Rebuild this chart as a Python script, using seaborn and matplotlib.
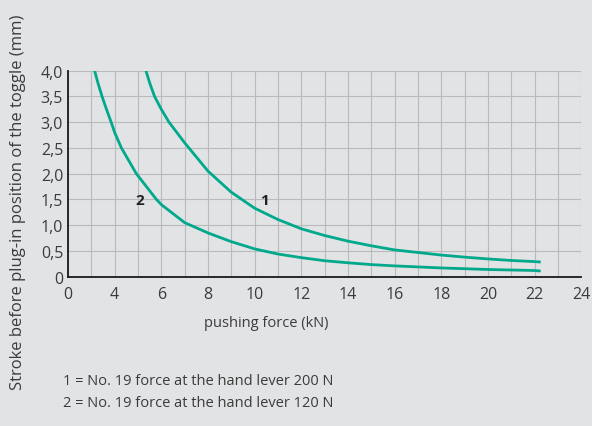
import matplotlib
matplotlib.use("Agg")
import matplotlib.pyplot as plt
import seaborn as sns
import pandas as pd
from matplotlib.ticker import MultipleLocator

# ---- data ----
curve1_x = [5.34, 5.51, 5.71, 6.0, 6.33, 7.0, 8.0, 9.0, 10, 11, 12, 13, 14, 15,
            16, 17, 18, 19, 20, 21, 22, 22.26]
curve1_y = [4.0, 3.75, 3.5, 3.25, 3.0, 2.60, 2.05, 1.64, 1.33, 1.11, 0.93, 0.80,
            0.69, 0.60, 0.52, 0.47, 0.42, 0.38, 0.345, 0.315, 0.293, 0.285]
curve2_x = [3.14, 3.29, 3.46, 3.65, 3.85, 4.0, 4.29, 4.93, 5.79, 6.0, 7, 8, 9, 10, 11,
            12, 13, 14, 15, 16, 17, 18, 19, 20, 22, 22.26]
curve2_y = [4.0, 3.75, 3.5, 3.25, 3.0, 2.80, 2.5, 2.0, 1.5, 1.40, 1.05, 0.85, 0.68,
            0.54, 0.44, 0.37, 0.31, 0.27, 0.235, 0.21, 0.19, 0.17, 0.155, 0.14, 0.12, 0.11]

x_tick_pos = [2, 4, 6, 8, 10, 12, 14, 16, 18, 20, 22, 24]
x_tick_labels = ["0", "4", "6", "8", "10", "12", "14", "16", "18", "20", "22", "24"]
y_tick_pos = [0, 0.5, 1.0, 1.5, 2.0, 2.5, 3.0, 3.5, 4.0]
y_tick_labels = ["0", "0,5", "1,0", "1,5", "2,0", "2,5", "3,0", "3,5", "4,0"]

curve_labels = ["1", "2"]
curve_label_x = [10.44, 5.06]
curve_label_y = [1.48, 1.48]

notes = ["1 = No. 19 force at the hand lever 200 N",
         "2 = No. 19 force at the hand lever 120 N"]

x_label = "pushing force (kN)"
y_label = "Stroke before plug-in position of the toggle (mm)"

# ---- styling ----
BG = "#e2e3e5"
GRID = "#b9babc"
LINE = "#00a98c"
TEXT = "#3b3b3b"

sns.set_theme(style="white")
plt.rcParams["font.family"] = ["Open Sans", "DejaVu Sans"]

fig = plt.figure(figsize=(5.92, 4.27), dpi=100, facecolor=BG)
ax = fig.add_axes([68 / 592, 1 - 277.7 / 427, (581.3 - 68) / 592, (277.7 - 71.7) / 427])
ax.set_facecolor(BG)

df = pd.concat([
    pd.DataFrame({"x": curve1_x, "y": curve1_y, "curve": "1"}),
    pd.DataFrame({"x": curve2_x, "y": curve2_y, "curve": "2"}),
])
sns.lineplot(data=df, x="x", y="y", units="curve", estimator=None, sort=False,
             color=LINE, linewidth=2.0, ax=ax, legend=False)
for ln in ax.get_lines():
    ln.set_solid_joinstyle("round")
    ln.set_solid_capstyle("butt")

ax.set_xlim(2, 24)
ax.set_ylim(0, 4)
ax.set_xticks(x_tick_pos)
ax.set_xticklabels(x_tick_labels)
ax.set_yticks(y_tick_pos)
ax.set_yticklabels(y_tick_labels)
ax.xaxis.set_minor_locator(MultipleLocator(1))

ax.grid(True, which="both", axis="x", color=GRID, linewidth=0.8)
ax.grid(True, which="major", axis="y", color=GRID, linewidth=0.8)
ax.set_axisbelow(True)

for s in ["top", "right"]:
    ax.spines[s].set_visible(False)
for s in ["left", "bottom"]:
    ax.spines[s].set_color("#1a1a1a")
    ax.spines[s].set_linewidth(1.3)

ax.tick_params(axis="x", which="both", direction="out", length=5, width=0.8,
               color=GRID, pad=2, labelsize=11.5, labelcolor=TEXT)
ax.tick_params(axis="y", which="both", length=0, pad=3.5, labelsize=11.5, labelcolor=TEXT)

ax.set_xlabel("")
ax.set_ylabel("")

for t, xx, yy in zip(curve_labels, curve_label_x, curve_label_y):
    ax.text(xx, yy, t, ha="center", va="center", fontsize=11,
            fontweight="bold", color="#222222")

fig.text(266 / 592, 1 - 324 / 427, x_label, ha="center", va="center",
         fontsize=10.5, color=TEXT)
fig.text(18 / 592, 1 - 202 / 427, y_label, ha="center", va="center",
         rotation=90, fontsize=12, color=TEXT)
fig.text(63 / 592, 1 - 382 / 427, notes[0], ha="left", va="center",
         fontsize=10.5, color=TEXT)
fig.text(63 / 592, 1 - 404 / 427, notes[1], ha="left", va="center",
         fontsize=10.5, color=TEXT)

fig.savefig("out.png", dpi=100, facecolor=BG)
